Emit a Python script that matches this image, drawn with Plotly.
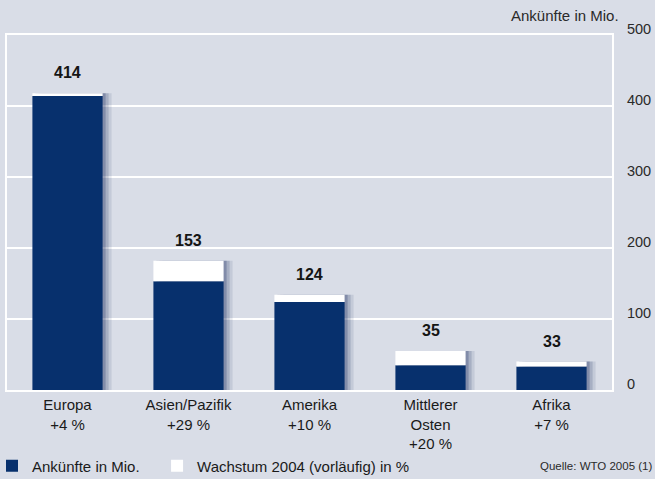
import plotly.graph_objects as go

categories = ["Europa", "Asien/Pazifik", "Amerika", "Mittlerer<br>Osten", "Afrika"]
arrivals = [414, 153, 124, 35, 33]          # Ankünfte in Mio.
growth = [4, 29, 10, 20, 7]                 # Wachstum 2004 (vorläufig) in %
y_ticks = [0, 100, 200, 300, 400, 500]

NAVY = "#07306d"
BG = "#d9dde7"
FONT = "Liberation Sans, Arial, sans-serif"

totals = [a + g for a, g in zip(arrivals, growth)]
cat_ids = list(range(len(categories)))
ticktext = [f"{c}<br>+{g} %" for c, g in zip(categories, growth)]

W, H = 655, 479
ml, mr, mt, mb = 7, 43, 35, 89
pw = W - ml - mr
ph = H - mt - mb
cw = pw / len(categories)
bw = 0.58
off = -bw / 2

fig = go.Figure()

# soft shadows
for px, col in [(9, "rgba(20,35,90,0.10)"), (6, "rgba(20,35,90,0.16)"), (3, "rgba(20,35,90,0.25)")]:
    fig.add_trace(go.Bar(x=cat_ids, y=totals, width=bw, offset=off + px / cw,
                         marker=dict(color=col, line=dict(width=0)),
                         showlegend=False, hoverinfo="skip"))

fig.add_trace(go.Bar(x=cat_ids, y=arrivals, width=bw, offset=off, name="Ankünfte in Mio.\u00a0\u00a0\u00a0",
                     marker=dict(color=NAVY, line=dict(width=0))))
fig.add_trace(go.Bar(x=cat_ids, y=growth, base=arrivals, width=bw, offset=off,
                     name="Wachstum 2004 (vorläufig) in %",
                     marker=dict(color="white", line=dict(width=0))))

for i, (a, t) in enumerate(zip(arrivals, totals)):
    fig.add_annotation(x=i, y=t, text=f"<b>{a}</b>", showarrow=False, yanchor="bottom", yshift=10,
                       font=dict(family=FONT, size=16, color="#151515"))

fig.add_annotation(xref="paper", yref="paper", x=(621 - ml) / pw, y=1, xanchor="right", yanchor="middle",
                   yshift=20, text="Ankünfte in Mio.", showarrow=False,
                   font=dict(family=FONT, size=15, color="#2a2a2a"))
fig.add_annotation(xref="paper", yref="paper", x=(654 - ml) / pw, y=-(466 - (H - mb)) / ph,
                   xanchor="right", yanchor="middle",
                   text="Quelle: WTO 2005 (1)", showarrow=False, font=dict(family=FONT, size=11.5, color="#2a2a2a"))

fig.update_layout(
    width=W, height=H,
    margin=dict(l=ml, r=mr, t=mt, b=mb, autoexpand=False),
    paper_bgcolor=BG, plot_bgcolor=BG,
    barmode="overlay",
    xaxis=dict(tickmode="array", tickvals=cat_ids, ticktext=ticktext, range=[-0.5, len(categories) - 0.5],
               showgrid=False, showline=True, linecolor="white", linewidth=2, mirror=True, automargin=False,
               ticks="", tickfont=dict(family=FONT, size=15, color="#1a1a1a")),
    yaxis=dict(side="right", range=[0, 500], tickvals=y_ticks, showgrid=True, gridcolor="white", gridwidth=2,
               zeroline=False, showline=True, linecolor="white", linewidth=2, mirror=True, automargin=False,
               ticks="", ticklabelstandoff=10, ticklabelshift=-6,
               tickfont=dict(family=FONT, size=14.5, color="#2a2a2a")),
    legend=dict(orientation="h", xref="paper", yref="paper", x=(-8 - ml) / pw, xanchor="left",
                y=-(466 - (H - mb)) / ph, yanchor="middle",
                bgcolor="rgba(0,0,0,0)",
                font=dict(family=FONT, size=15, color="#1a1a1a"), traceorder="normal"),
)

fig.write_html("out.html", config={"displayModeBar": False},
               post_script="document.body.style.margin='0';")
